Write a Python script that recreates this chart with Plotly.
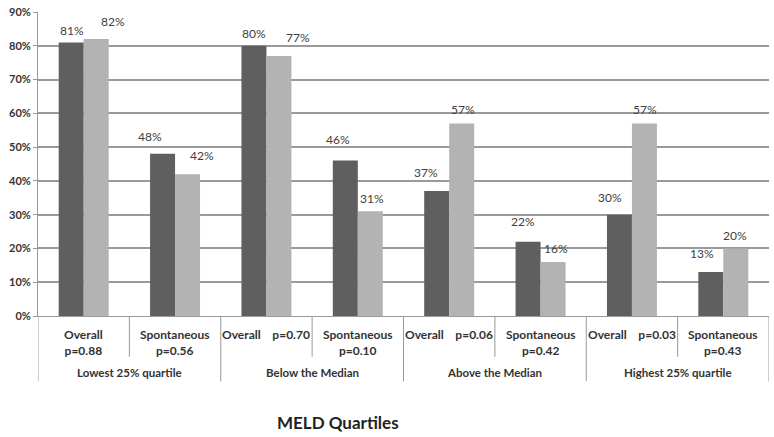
import plotly.graph_objects as go

groups = ["Lowest 25% quartile", "Below the Median", "Above the Median", "Highest 25% quartile"]
sub_labels = ["Overall<br>p=0.88", "Spontaneous<br>p=0.56",
              "Overall    p=0.70", "Spontaneous<br>p=0.10",
              "Overall    p=0.06", "Spontaneous<br>p=0.42",
              "Overall    p=0.03", "Spontaneous<br>p=0.43"]
dark_vals = [81, 48, 80, 46, 37, 22, 30, 13]
light_vals = [82, 42, 77, 31, 57, 16, 57, 20]
y_ticks = [0, 10, 20, 30, 40, 50, 60, 70, 80, 90]

# label offsets (style only)
dark_dx = [-12, -25, -12, -20, -23, -18, -22, -21]
dark_dy = [12, 17, 12, 21, 19, 20, 17, 19]
light_dx = [29, 27, 32, 14, 14, 15, 13, 12]
light_dy = [18, 19, 18, 13, 14, 13, 14, 13]

xs = list(range(len(dark_vals)))
DARK = "#5f5f5f"
LIGHT = "#b3b3b3"
FONT = "Lato"

fig = go.Figure()
fig.add_trace(go.Bar(x=xs, y=dark_vals, marker=dict(color=DARK, line=dict(width=0)), showlegend=False))
fig.add_trace(go.Bar(x=xs, y=light_vals, marker=dict(color=LIGHT, line=dict(width=0)), showlegend=False))

ann = []
for i in xs:
    ann.append(dict(x=i, y=dark_vals[i], xref="x", yref="y", text=f"{dark_vals[i]}%", showarrow=False,
                    xshift=dark_dx[i], yshift=dark_dy[i], yanchor="middle",
                    font=dict(family=FONT, size=12, color="#404040")))
    ann.append(dict(x=i, y=light_vals[i], xref="x", yref="y", text=f"{light_vals[i]}%", showarrow=False,
                    xshift=light_dx[i], yshift=light_dy[i], yanchor="middle",
                    font=dict(family=FONT, size=12, color="#404040")))
    ann.append(dict(x=i, y=-0.03, xref="x", yref="paper", text=f"<b>{sub_labels[i]}</b>", showarrow=False,
                    yanchor="top", font=dict(family=FONT, size=12, color="#333333")))
for g, name in enumerate(groups):
    ann.append(dict(x=2 * g + 0.5, y=-0.185, xref="x", yref="paper", text=f"<b>{name}</b>", showarrow=False,
                    yanchor="middle", font=dict(family=FONT, size=11.5, color="#333333")))
ann.append(dict(x=0.41, y=-0.35, xref="paper", yref="paper", text="<b>MELD Quartiles</b>", showarrow=False,
                yanchor="middle", font=dict(family=FONT, size=17, color="#222222")))

shapes = []
for k in range(9):
    bottom = -0.215 if k % 2 == 0 else -0.134
    shapes.append(dict(type="line", xref="x", yref="paper", x0=k - 0.5, x1=k - 0.5, y0=0, y1=bottom,
                       line=dict(color="#999999", width=1)))

fig.update_layout(
    width=774, height=437,
    margin=dict(l=38, r=5, t=9, b=121),
    paper_bgcolor="white", plot_bgcolor="white",
    barmode="group", bargap=0.453, bargroupgap=0,
    annotations=ann, shapes=shapes,
    xaxis=dict(range=[-0.5, 7.5], showticklabels=False, showgrid=False, zeroline=False,
               showline=True, linecolor="#999999", linewidth=1, ticks=""),
    yaxis=dict(range=[0, 90], tickvals=y_ticks, ticktext=[f"<b>{v}%</b>" for v in y_ticks],
               showgrid=True, gridcolor="#9a9a9a", gridwidth=1.5, zeroline=False,
               showline=True, linecolor="#999999", linewidth=1, ticks="outside", ticklen=4,
               tickcolor="#999999", tickfont=dict(family=FONT, size=11, color="#333333")),
)

fig.write_html("out.html", config={"displayModeBar": False},
               post_script="document.body.style.margin='0';document.body.style.overflow='hidden';")
